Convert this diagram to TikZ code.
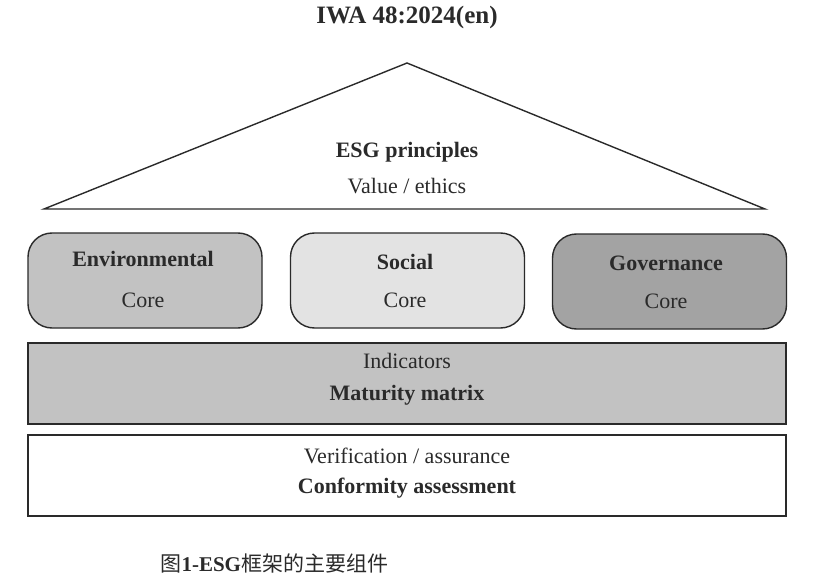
\documentclass[tikz,border=0pt]{standalone}
\usepackage{fontspec}
\setmainfont{Liberation Serif}
\newfontfamily\cjk{Noto Sans CJK SC}
\usetikzlibrary{positioning}

\definecolor{envgray}{HTML}{C2C2C2}
\definecolor{socgray}{HTML}{E3E3E3}
\definecolor{govgray}{HTML}{A3A3A3}
\definecolor{inkgray}{HTML}{2A2A2A}

\begin{document}
\begin{tikzpicture}[
  x=1pt, y=-1pt,
  pillar/.style={draw=inkgray, line width=1.4pt, rounded corners=24pt,
    minimum width=234pt, minimum height=95pt, inner sep=0pt},
  layer/.style={draw=inkgray, line width=1.4pt, minimum width=758pt,
    minimum height=81pt, inner sep=0pt},
  head/.style={font=\fontsize{22}{25}\selectfont\bfseries, text=inkgray, inner sep=0pt},
  body/.style={font=\fontsize{22}{25}\selectfont, text=inkgray, inner sep=0pt}
]
\useasboundingbox (0,0) rectangle (831,586);

\node[font=\fontsize{25}{28}\selectfont\bfseries, text=inkgray] (title) at (407,17) {IWA 48:2024(en)};

% roof
\coordinate (apex) at (407,63);
\coordinate (eaveL) at (44,209);
\coordinate (eaveR) at (765,209);
\draw[inkgray, line width=1.4pt, line join=miter] (eaveL) -- (apex) -- (eaveR) -- cycle;
\node[head] (principles) at (407,152) {ESG principles};
\node[body] (values) at (407,186) {Value / ethics};

% pillars
\node[pillar, fill=envgray] (env) at (145,280.5) {};
\node[pillar, fill=socgray] (soc) at (407.5,280.5) {};
\node[pillar, fill=govgray] (gov) at (669.5,281.5) {};
\node[head] (envname) at (143,259) {Environmental};
\node[body] (envcore) at (143,300) {Core};
\node[head] (socname) at (405,262) {Social};
\node[body] (soccore) at (405,300) {Core};
\node[head] (govname) at (666,263) {Governance};
\node[body] (govcore) at (666,301) {Core};

% layers
\node[layer, fill=envgray] (matrix) at (407,383.5) {};
\node[body] (indicators) at (407,361) {Indicators};
\node[head] (maturity) at (407,395) {Maturity matrix};
\node[layer, fill=white] (conform) at (407,475.5) {};
\node[body] (verify) at (407,456) {Verification / assurance};
\node[head] (assess) at (407,488) {Conformity assessment};

\node[anchor=west, font=\fontsize{21}{24}\selectfont, text=inkgray] (caption) at (157,563)
  {\cjk 图\rmfamily\bfseries 1-ESG\mdseries\cjk 框架的主要组件};
\end{tikzpicture}
\end{document}
